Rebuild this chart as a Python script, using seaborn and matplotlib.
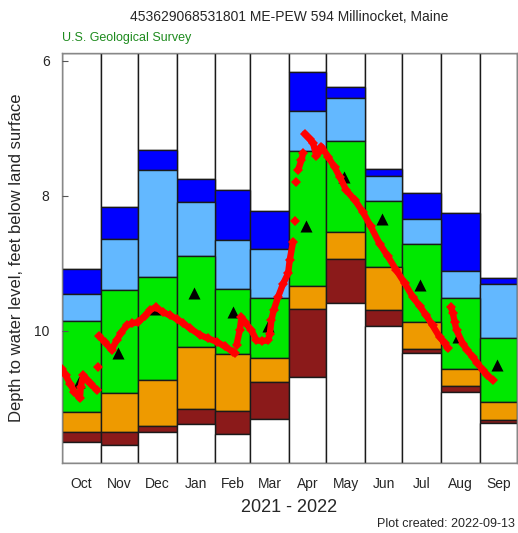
import numpy as np
import pandas as pd
import matplotlib.pyplot as plt
import seaborn as sns

# monthly percentile boundaries (feet below land surface), Oct 2021 - Sep 2022
months = ['Oct', 'Nov', 'Dec', 'Jan', 'Feb', 'Mar', 'Apr', 'May', 'Jun', 'Jul', 'Aug', 'Sep']
month_days = [31, 30, 31, 31, 28, 31, 30, 31, 30, 31, 31, 30]
highest = [9.08, 8.16, 7.32, 7.75, 7.92, 8.22, 6.16, 6.39, 7.60, 7.96, 8.26, 9.21]
p90 = [9.46, 8.64, 7.62, 8.09, 8.66, 8.79, 6.75, 6.55, 7.71, 8.35, 9.12, 9.30]
p75 = [9.86, 9.39, 9.20, 8.89, 9.38, 9.51, 7.34, 7.19, 8.08, 8.72, 9.51, 10.11]
p25 = [11.20, 10.92, 10.72, 10.24, 10.34, 10.40, 9.33, 8.54, 9.05, 9.87, 10.56, 11.05]
p10 = [11.50, 11.49, 11.41, 11.16, 11.19, 10.76, 9.67, 8.94, 9.69, 10.27, 10.82, 11.32]
lowest = [11.65, 11.69, 11.50, 11.38, 11.52, 11.31, 10.68, 9.59, 9.93, 10.33, 10.91, 11.36]
median = [10.76, 10.32, 9.67, 9.44, 9.72, 9.93, 8.45, 7.72, 8.35, 9.32, 10.09, 10.51]

# daily water levels (day 0 = Oct 1, 2021), seg = continuous piece
obs_day = [0, 3, 6.4, 10, 14.4, 15, 17, 20, 23, 28,
           29,
           30, 34.5, 39.8, 43.8, 47.3, 51.8, 56, 61.1, 66.5, 70.5, 75.3, 80.9, 86.5, 91.9,
           97.2, 102.6, 110.6, 117, 124, 130.6, 137.3, 138.6,
           140, 142.6, 144, 146.6, 152, 156, 160.3, 165.3, 166.7, 168, 169.9, 173.3, 177.4,
           181.4, 182.7, 185.4,
           186.7,
           188.1,
           189.4, 192.1, 193.4,
           194.7, 198.7, 201.4, 204.1, 206, 208.1, 213.4, 218.8, 222.8, 228.1, 234.8, 241.4,
           247.6, 254.8, 261.2, 268.2, 274.8, 281.5, 286.9, 292.2, 297.3, 302.9, 306.9, 309.5,
           312, 313.5, 315, 316.5, 321.6, 325.3, 329.6, 333.3, 337.6, 341.3, 345.6]
obs_level = [10.56, 10.66, 10.78, 10.90, 11.00, 10.83, 10.66, 10.72, 10.78, 10.88,
             10.53,
             10.08, 10.17, 10.28, 10.14, 10.03, 9.92, 9.89, 9.87, 9.78, 9.69, 9.65, 9.72, 9.77, 9.82,
             9.89, 9.96, 10.06, 10.11, 10.16, 10.23, 10.31, 10.33,
             10.21, 9.99, 9.80, 9.87, 9.99, 10.14, 10.15, 10.14, 10.05, 9.84, 9.69, 9.50, 9.30,
             9.15, 8.95, 8.68,
             8.38,
             7.79,
             7.62, 7.47, 7.37,
             7.08, 7.16, 7.22, 7.41, 7.35, 7.27, 7.42, 7.58, 7.72, 7.92, 8.06, 8.24,
             8.45, 8.71, 8.89, 9.10, 9.29, 9.50, 9.63, 9.77, 9.92, 10.09, 10.18, 10.26,
             9.65, 9.73, 9.87, 9.99, 10.19, 10.29, 10.39, 10.48, 10.58, 10.66, 10.73]
obs_seg = [0] * 10 + [1] + [2] * 22 + [3] * 16 + [4] + [5] + [6] * 3 + [7] * 24 + [8] * 11

sns.set_style('white')
plt.rcParams['font.family'] = ['Liberation Sans', 'DejaVu Sans']

fig = plt.figure(figsize=(5.18, 5.33), dpi=100)
ax = fig.add_axes([0.1197, 0.1308, 0.8783, 0.7692])
ax.set_axisbelow(False)

starts = np.concatenate([[0], np.cumsum(month_days)[:-1]])
ymin, ymax = 11.96, 5.89

bands = [
    (ymax, highest, 'white'),
    (highest, p90, '#0000FF'),
    (p90, p75, '#63B8FF'),
    (p75, p25, '#00E800'),
    (p25, p10, '#EE9A00'),
    (p10, lowest, '#8B1A1A'),
    (lowest, ymin, 'white'),
]
for top, bot, col in bands:
    top = np.broadcast_to(top, (12,))
    bot = np.broadcast_to(bot, (12,))
    ax.bar(starts, bot - top, bottom=top, width=month_days, align='edge',
           color=col, edgecolor='#1a1a1a', linewidth=1.0, zorder=1)

med = pd.DataFrame({'day': starts + 14, 'level': median})
sns.scatterplot(data=med, x='day', y='level', marker='^', s=75, color='black',
                linewidth=0, zorder=3, ax=ax)

obs = pd.DataFrame({'day': obs_day, 'level': obs_level, 'seg': obs_seg})
sns.lineplot(data=obs, x='day', y='level', units='seg', estimator=None, color='#FF0000',
             lw=4.6, marker='D', markersize=5, markeredgewidth=0, sort=False, zorder=4, ax=ax)

ax.set_xlim(0, 365)
ax.set_ylim(ymin, ymax)
ax.set_yticks([6, 8, 10])
ax.set_xticks(starts + np.array(month_days) / 2)
ax.set_xticklabels(months)
ax.tick_params(axis='x', length=0, pad=10, labelsize=10)
ax.tick_params(axis='y', left=True, direction='in', length=4, width=0.8, color='#555555',
               labelsize=10, pad=9)
ax.set_xlabel('')
ax.set_ylabel('')
for sp in ax.spines.values():
    sp.set_color('#888888')
    sp.set_linewidth(1.0)

fig.text(0.558, 0.968, '453629068531801 ME-PEW 594 Millinocket, Maine',
         ha='center', va='center', fontsize=10)
fig.text(0.12, 0.929, 'U.S. Geological Survey', ha='left', va='center',
         fontsize=9, color='#1E8B1E')
fig.text(0.031, 0.516, 'Depth to water level, feet below land surface', rotation=90,
         ha='center', va='center', fontsize=12)
fig.text(0.558, 0.047, '2021 - 2022', ha='center', va='center', fontsize=13)
fig.text(0.994, 0.017, 'Plot created: 2022-09-13', ha='right', va='center', fontsize=9)

fig.savefig('out.png', dpi=100)
